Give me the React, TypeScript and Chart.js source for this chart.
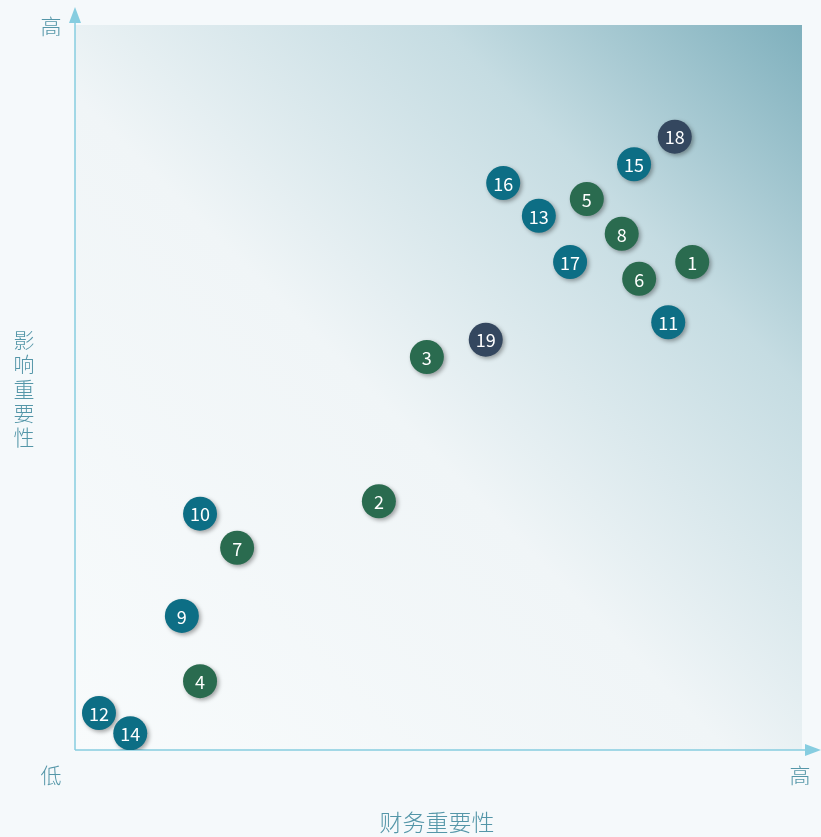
import React, { useEffect, useRef } from "react";
import { Chart, registerables } from "chart.js";

Chart.register(...registerables);

const ids = ["1","2","3","4","5","6","7","8","9","10","11","12","13","14","15","16","17","18","19"];
const financial = [84.9, 41.8, 48.4, 17.2, 70.4, 77.6, 22.3, 75.2, 14.7, 17.2, 81.6, 3.3, 63.8, 7.6, 76.9, 58.9, 68.1, 82.5, 56.5];
const impact = [67.3, 34.3, 54.2, 9.5, 76.0, 65.0, 27.9, 71.2, 18.5, 32.6, 59.0, 5.1, 73.7, 2.3, 80.8, 78.2, 67.3, 84.6, 56.6];
const groups = ["g","g","g","g","g","g","g","g","t","t","t","t","t","t","t","t","t","n","n"];
const groupColors: Record<string, string> = { g: "#2a6b4f", t: "#0d6e85", n: "#34475f" };

const xTitle = "财务重要性";
const yTitle = ["影", "响", "重", "要", "性"];
const lowLabel = "低";
const highLabel = "高";

const W = 821;
const H = 837;
const FONT = "'Noto Sans CJK SC', 'Noto Sans', sans-serif";

export default function App() {
  const ref = useRef<HTMLCanvasElement | null>(null);
  useEffect(() => {
    document.body.style.margin = "0";
    document.body.style.background = "#f5f9fb";
    const canvas = ref.current;
    if (!canvas) return;

    const bgPlugin = {
      id: "bg",
      beforeDraw(chart: any) {
        const { ctx, chartArea: a } = chart;
        ctx.save();
        ctx.fillStyle = "#f5f9fb";
        ctx.fillRect(0, 0, W, H);
        const g = ctx.createLinearGradient(a.left, a.bottom, a.right, a.top);
        g.addColorStop(0, "#f8fbfc");
        g.addColorStop(0.45, "#f0f5f7");
        g.addColorStop(0.75, "#c5dce2");
        g.addColorStop(1, "#7fb0bd");
        ctx.fillStyle = g;
        ctx.fillRect(a.left, a.top, a.right - a.left, a.bottom - a.top);
        ctx.restore();
      },
      beforeDatasetsDraw(chart: any) {
        const { ctx, chartArea: a } = chart;
        const axisColor = "#86cde0";
        ctx.save();
        ctx.strokeStyle = axisColor;
        ctx.fillStyle = axisColor;
        ctx.lineWidth = 1.5;
        ctx.beginPath();
        ctx.moveTo(a.left, a.bottom);
        ctx.lineTo(a.left, 18);
        ctx.moveTo(a.left, a.bottom);
        ctx.lineTo(W - 10, a.bottom);
        ctx.stroke();
        ctx.beginPath();
        ctx.moveTo(a.left, 7);
        ctx.lineTo(a.left - 6, 23);
        ctx.lineTo(a.left + 6, 23);
        ctx.closePath();
        ctx.fill();
        ctx.beginPath();
        ctx.moveTo(W, a.bottom);
        ctx.lineTo(W - 16, a.bottom - 6);
        ctx.lineTo(W - 16, a.bottom + 6);
        ctx.closePath();
        ctx.fill();

        ctx.fillStyle = "#5496a8";
        ctx.textAlign = "center";
        ctx.textBaseline = "middle";
        ctx.font = `300 21px ${FONT}`;
        ctx.fillText(highLabel, 51, 26);
        ctx.fillText(lowLabel, 51, 775);
        ctx.fillText(highLabel, 800, 775);
        yTitle.forEach((c, i) => ctx.fillText(c, 24, 340 + i * 24.3));
        ctx.font = `300 23px ${FONT}`;
        ctx.fillText(xTitle, 437, 822);

        ctx.shadowColor = "rgba(0,0,0,0.35)";
        ctx.shadowBlur = 4;
        ctx.shadowOffsetX = 2;
        ctx.shadowOffsetY = 2;
      },
      afterDatasetsDraw(chart: any) {
        const { ctx } = chart;
        ctx.restore();
        ctx.save();
        ctx.fillStyle = "#ffffff";
        ctx.textAlign = "center";
        ctx.textBaseline = "middle";
        ctx.font = `18px ${FONT}`;
        const meta = chart.getDatasetMeta(0);
        meta.data.forEach((el: any, i: number) => {
          ctx.fillText(ids[i], el.x, el.y + 1);
        });
        ctx.restore();
      },
    };

    const chart = new Chart(canvas, {
      type: "scatter",
      data: {
        datasets: [
          {
            data: financial.map((x, i) => ({ x, y: impact[i] })),
            backgroundColor: groups.map((g) => groupColors[g]),
            borderWidth: 0,
            pointRadius: 17,
            pointHoverRadius: 17,
          },
        ],
      },
      options: {
        responsive: false,
        animation: false,
        devicePixelRatio: 1,
        layout: { padding: { left: 75, right: 19, top: 25, bottom: 87 } },
        plugins: { legend: { display: false }, tooltip: { enabled: false } },
        events: [],
        scales: {
          x: { type: "linear", min: 0, max: 100, display: false },
          y: { type: "linear", min: 0, max: 100, display: false },
        },
      },
      plugins: [bgPlugin],
    });
    return () => chart.destroy();
  }, []);
  return (
    <div style={{ width: W, height: H, background: "#f5f9fb" }}>
      <canvas ref={ref} width={W} height={H} style={{ display: "block", width: W, height: H }} />
    </div>
  );
}
